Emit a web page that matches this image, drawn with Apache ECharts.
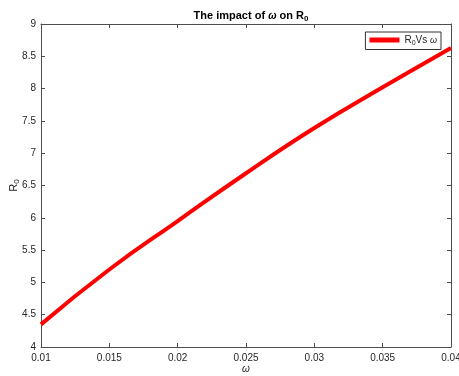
<!DOCTYPE html>
<html>
<head>
<meta charset="utf-8">
<script src="https://cdn.jsdelivr.net/npm/echarts@6/dist/echarts.min.js"></script>
<style>html,body{margin:0;padding:0;background:#fff}#c{width:459px;height:376px}</style>
</head>
<body>
<div id="c"></div>
<script>
const omega = [0.01, 0.015, 0.02, 0.025, 0.03, 0.035, 0.04];
const R0 = [4.35, 5.20, 5.95, 6.69, 7.39, 8.02, 8.63];
const xTicks = [0.01, 0.015, 0.02, 0.025, 0.03, 0.035, 0.04];
const yTicks = [4, 4.5, 5, 5.5, 6, 6.5, 7, 7.5, 8, 8.5, 9];

const font = 'Liberation Sans, Arial, Helvetica, sans-serif';
const axisCol = '#4d4d4d';
const textCol = '#262626';

const chart = echarts.init(document.getElementById('c'));
const baseAxis = {
  axisLine: {show: true, onZero: false, lineStyle: {color: axisCol, width: 1}},
  axisTick: {show: true, inside: true, length: 4, lineStyle: {color: axisCol}},
  splitLine: {show: false}
};
chart.setOption({
  animation: false,
  backgroundColor: '#fff',
  title: {
    text: '{b|The impact of }{w|ω}{b| on R}{s|0}',
    left: 246, top: 4, textAlign: 'center',
    textStyle: {
      rich: {
        b: {fontFamily: font, fontSize: 11, fontWeight: 'bold', color: '#000'},
        w: {fontFamily: font, fontSize: 10, color: '#000', fontStyle: 'italic'},
        s: {fontFamily: font, fontSize: 8, fontWeight: 'bold', color: '#000', padding: [6, 0, 0, 0]}
      }
    }
  },
  legend: {
    right: 18, top: 32,
    orient: 'vertical',
    itemWidth: 30, itemHeight: 5,
    itemGap: 2,
    padding: [3, 4, 3, 4],
    borderColor: '#333', borderWidth: 1,
    backgroundColor: '#fff',
    icon: 'rect',
    formatter: function () { return '{a|R}{s|0}{a|Vs }{w|ω}'; },
    textStyle: {
      rich: {
        a: {fontFamily: font, fontSize: 10, color: textCol},
        s: {fontFamily: font, fontSize: 7, color: textCol, padding: [6, 0, 0, 0]},
        w: {fontFamily: font, fontSize: 9, color: textCol, fontStyle: 'italic'}
      }
    },
    data: [{name: 'R0Vs', icon: 'rect'}]
  },
  grid: {left: 41, right: 8, top: 24, bottom: 29, containLabel: false, outerBoundsMode: 'none'},
  xAxis: [
    Object.assign({}, baseAxis, {
      type: 'value', min: 0.01, max: 0.04, interval: 0.005,
      position: 'bottom',
      name: 'ω', nameLocation: 'middle', nameGap: 17, nameMoveOverlap: false,
      nameTextStyle: {fontFamily: font, fontSize: 10, color: textCol, fontStyle: 'italic'},
      axisLabel: {fontFamily: font, fontSize: 10, color: textCol, margin: 6,
        formatter: function (v) { return String(Math.round(v * 1000) / 1000); }}
    }),
    Object.assign({}, baseAxis, {
      type: 'value', min: 0.01, max: 0.04, interval: 0.005,
      position: 'top', axisLabel: {show: false}
    })
  ],
  yAxis: [
    Object.assign({}, baseAxis, {
      type: 'value', min: 4, max: 9, interval: 0.5,
      position: 'left',
      name: '{r|R}{s|0}', nameLocation: 'middle', nameGap: 20, nameRotate: 90, nameMoveOverlap: false,
      nameTextStyle: {
        rich: {
          r: {fontFamily: font, fontSize: 11, color: textCol},
          s: {fontFamily: font, fontSize: 8, color: textCol, padding: [6, 0, 0, 0]}
        }
      },
      axisLabel: {fontFamily: font, fontSize: 10, color: textCol, margin: 5}
    }),
    Object.assign({}, baseAxis, {
      type: 'value', min: 4, max: 9, interval: 0.5,
      position: 'right', axisLabel: {show: false}
    })
  ],
  series: [{
    name: 'R0Vs',
    type: 'line',
    data: omega.map((x, i) => [x, R0[i]]),
    smooth: true,
    showSymbol: false,
    symbol: 'none',
    lineStyle: {color: '#ff0000', width: 4},
    itemStyle: {color: '#ff0000'},
    xAxisIndex: 0, yAxisIndex: 0
  }]
});
</script>
</body>
</html>
